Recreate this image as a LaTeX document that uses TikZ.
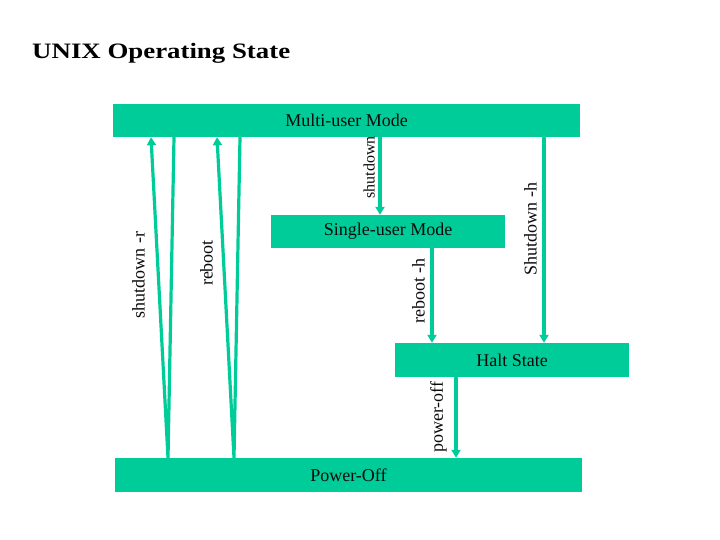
\documentclass[tikz,border=0pt]{standalone}
\usepackage{fontspec}
\setmainfont{Liberation Serif}
\usetikzlibrary{arrows.meta}
\definecolor{mode}{HTML}{00CC99}
\definecolor{ink}{HTML}{0B0B0B}
\tikzset{
  >={Triangle[length=8pt,width=9pt]},
  box/.style={fill=mode, draw=none, inner sep=0pt, text=ink,
    font=\fontsize{18}{20}\selectfont},
  arr/.style={->, draw=mode, line width=3.2pt},
  vlbl/.style={rotate=90, anchor=south, inner sep=1pt, text=ink,
    font=\fontsize{18}{20}\selectfont},
  title/.style={anchor=base west, inner sep=0pt, text=black, xscale=1.22,
    font=\fontsize{22}{26}\selectfont\bfseries},
}
\begin{document}
\begin{tikzpicture}[x=1pt, y=-1pt]
  \useasboundingbox (0,0) rectangle (720,540);
  \node[title] (title) at (32,59) {UNIX Operating State};

  % states
  \node[box, minimum width=467pt, minimum height=33pt] (multi) at (346.5,120.5) {Multi-user Mode};
  \node[box, minimum width=234pt, minimum height=33pt] (single) at (388,231.5) {Single-user Mode};
  \node[box, minimum width=234pt, minimum height=34pt] (halt) at (512,360) {Halt State};
  \node[box, minimum width=467pt, minimum height=34pt] (power) at (348.5,475) {Power-Off};

  % transitions
  \draw[arr] (380,0 |- multi.south) -- (380,0 |- single.north);
  \draw[arr] (432,0 |- single.south) -- (432,0 |- halt.north);
  \draw[arr] (544,0 |- multi.south) -- (544,0 |- halt.north);
  \draw[arr] (456,0 |- halt.south) -- (456,0 |- power.north);
  \draw[arr] (174,0 |- multi.south) -- (168,0 |- power.north) -- (151,0 |- multi.south);
  \draw[arr] (240,0 |- multi.south) -- (234,0 |- power.north) -- (217,0 |- multi.south);

  % labels
  \node[vlbl, font=\fontsize{16}{18}\selectfont] (lshut) at (376,167.5) {shutdown};
  \node[vlbl] (lrebooth) at (426,291) {reboot -h};
  \node[vlbl] (lshuth) at (538,229) {Shutdown -h};
  \node[vlbl] (lpoff) at (448,417) {power-off};
  \node[vlbl] (lshutr) at (146,275) {shutdown -r};
  \node[vlbl] (lreboot) at (214,263) {reboot};
\end{tikzpicture}
\end{document}
